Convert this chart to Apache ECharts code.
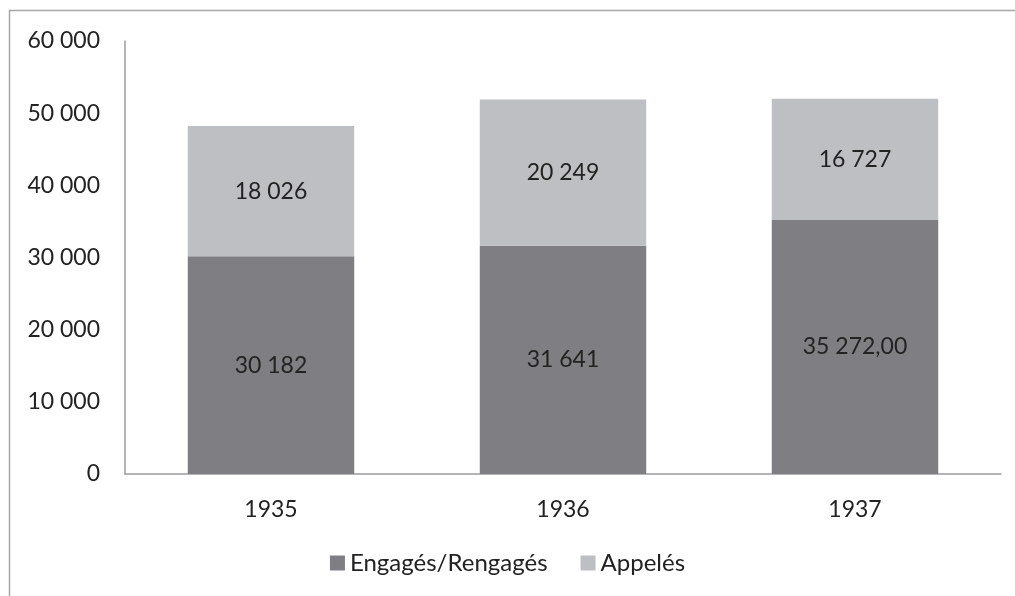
<!DOCTYPE html>
<html><head><meta charset="utf-8">
<script src="https://cdn.jsdelivr.net/npm/echarts@6/dist/echarts.min.js"></script>
<style>html,body{margin:0;padding:0;background:#fff}#c{width:1015px;height:596px}</style>
</head><body><div id="c"></div>
<script>
const categories = ['1935', '1936', '1937'];
const engages = [30182, 31641, 35272];
const appeles = [18026, 20249, 16727];
const engagesLabels = ['30 182', '31 641', '35 272,00'];
const appelesLabels = ['18 026', '20 249', '16 727'];
const yTicks = [0, 10000, 20000, 30000, 40000, 50000, 60000];

const fmt = v => String(v).replace(/\B(?=(\d{3})+(?!\d))/g, ' ');
const font = 'Lato, "Open Sans", sans-serif';
const fs = 23;
const chart = echarts.init(document.getElementById('c'), null, {renderer: 'canvas'});
chart.setOption({
  animation: false,
  backgroundColor: '#fff',
  graphic: [{type: 'rect', shape: {x: 9.5, y: 10.5, width: 1100, height: 700}, style: {fill: 'none', stroke: '#a6a6a6', lineWidth: 1.5}, silent: true}],
  grid: {left: 125, right: 14, top: 41, bottom: 122},
  legend: {
    bottom: 16, left: 'center', itemWidth: 15, itemHeight: 15, itemGap: 33,
    icon: 'rect',
    textStyle: {fontFamily: font, fontSize: 24, color: '#222'},
    data: ['Engagés/Rengagés', 'Appelés']
  },
  xAxis: {
    type: 'category', data: categories,
    axisLine: {lineStyle: {color: '#9d9da1', width: 1.5}},
    axisTick: {show: false},
    axisLabel: {fontFamily: font, fontSize: fs, color: '#222', margin: 24}
  },
  yAxis: {
    type: 'value', min: yTicks[0], max: yTicks[yTicks.length - 1], interval: 10000,
    splitLine: {show: false},
    axisLine: {show: true, lineStyle: {color: '#9d9da1', width: 1.5}},
    axisTick: {show: false},
    axisLabel: {fontFamily: font, fontSize: fs, color: '#222', margin: 25, formatter: v => fmt(v)}
  },
  series: [
    {
      name: 'Engagés/Rengagés', type: 'bar', stack: 't', data: engages, barWidth: '57%',
      itemStyle: {color: '#7f7f83'},
      label: {show: true, position: 'inside', fontFamily: font, fontSize: fs, color: '#222',
        formatter: p => engagesLabels[p.dataIndex]}
    },
    {
      name: 'Appelés', type: 'bar', stack: 't', data: appeles, barWidth: '57%',
      itemStyle: {color: '#bebfc3'},
      label: {show: true, position: 'inside', fontFamily: font, fontSize: fs, color: '#222',
        formatter: p => appelesLabels[p.dataIndex]}
    }
  ]
});
</script></body></html>
